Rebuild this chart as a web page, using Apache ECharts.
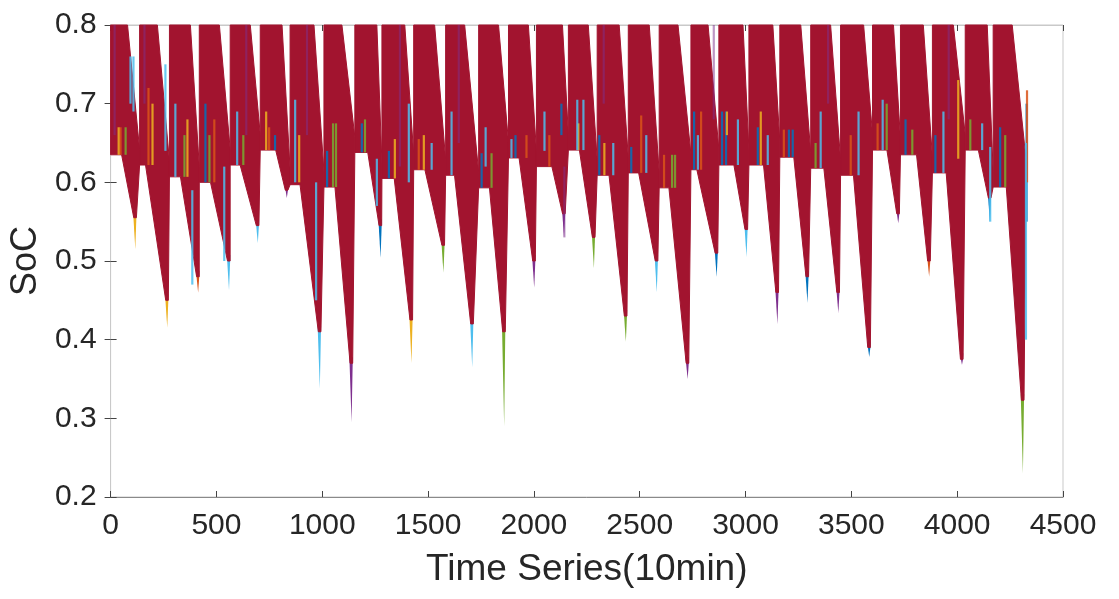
<!DOCTYPE html>
<html>
<head>
<meta charset="utf-8">
<script src="https://cdn.jsdelivr.net/npm/echarts/dist/echarts.min.js"></script>
<style>
html,body{margin:0;padding:0;background:#fff;}
#chart{width:1119px;height:599px;}
</style>
</head>
<body>
<div id="chart"></div>
<script>
// ---- Data (x in 10-min time steps, y in SoC) ----
const xTicks = [0, 500, 1000, 1500, 2000, 2500, 3000, 3500, 4000, 4500];
const yTicks = [0.2, 0.3, 0.4, 0.5, 0.6, 0.7, 0.8];
const socMax = 0.8;

// one entry per daily charge/discharge tooth
const blockStart = [0,137,278,419,565,707,848,1008,1154,1282,1432,1583,1739,1880,2012,2163,2299,2446,2592,2742,2874,3016,3162,3308,3449,3600,3732,3883,4038,4170];
const blockEnd   = [80,221,377,514,660,810,961,1093,1258,1390,1531,1673,1833,1974,2135,2257,2403,2545,2681,2823,2988,3129,3261,3402,3558,3699,3840,3982,4142,4260];
const plateauSoC = [0.635,0.622,0.607,0.600,0.622,0.641,0.597,0.594,0.638,0.605,0.616,0.609,0.593,0.631,0.620,0.641,0.609,0.612,0.593,0.616,0.622,0.622,0.632,0.618,0.609,0.641,0.635,0.612,0.641,0.594];
const spikeStart = [52,165,330,472,612,780,895,1060,1215,1340,1485,1625,1790,1930,2085,2215,2355,2495,2638,2770,2945,3085,3228,3370,3510,3668,3808,3948,4100,4232];
const dipStep    = [118,269,415,561,697,834,990,1140,1277,1423,1574,1710,1861,2003,2144,2285,2436,2582,2728,2865,3006,3152,3294,3440,3586,3723,3869,4024,4156,4312];
const dipSoC     = [0.555,0.45,0.48,0.50,0.545,0.59,0.41,0.37,0.545,0.425,0.52,0.42,0.41,0.50,0.56,0.53,0.43,0.50,0.37,0.51,0.54,0.46,0.48,0.46,0.39,0.56,0.50,0.375,0.58,0.323];
const wedgeSoC   = [0.642,0.627,0.62,0.642,0.661,0.617,0.614,0.658,0.625,0.636,0.629,0.613,0.651,0.64,0.661,0.629,0.632,0.613,0.636,0.642,0.642,0.652,0.638,0.629,0.661,0.655,0.632,0.661,0.614,0.63];
const tipSoC     = [0.515,0.415,0.46,0.463,0.523,0.58,0.338,0.295,0.504,0.37,0.485,0.365,0.29,0.466,0.53,0.491,0.397,0.46,0.35,0.48,0.505,0.42,0.447,0.434,0.378,0.548,0.48,0.368,0.55,0.23];
const tipSeries  = [2,2,1,5,5,3,5,3,0,2,4,5,4,3,3,4,4,5,3,0,5,3,0,3,0,3,1,3,0,4];
const endStep = 4325;
const endPlateauSoC = 0.60;

// visible traces of the other EV series: [step, topSoC, bottomSoC]
const traceBlue = [[448,0.70,0.60],[777,0.66,0.641],[1023,0.64,0.594],[1187,0.675,0.638],[1315,0.64,0.605],[1753,0.637,0.593],[1913,0.66,0.631],[2130,0.70,0.66],[2309,0.66,0.609],[2460,0.645,0.612],[2757,0.69,0.616],[2889,0.69,0.622],[2908,0.69,0.622],[3058,0.67,0.622],[3205,0.667,0.632],[3223,0.667,0.632],[3756,0.68,0.635],[3897,0.66,0.612],[4203,0.67,0.594],[4328,0.70,0.55]];
const traceOrange = [[47,0.67,0.635],[179,0.72,0.622],[490,0.68,0.60],[749,0.67,0.641],[1456,0.655,0.616],[1965,0.66,0.631],[2073,0.66,0.62],[2507,0.685,0.612],[2615,0.635,0.593],[2790,0.69,0.616],[3181,0.667,0.632],[3497,0.66,0.609],[3624,0.675,0.641],[4330,0.717,0.60]];
const traceYellow = [[38,0.67,0.635],[198,0.70,0.622],[363,0.68,0.607],[735,0.69,0.641],[891,0.66,0.60],[1343,0.655,0.605],[1480,0.66,0.616],[2210,0.675,0.641],[2333,0.65,0.609],[2912,0.69,0.66],[3072,0.69,0.622],[4005,0.73,0.63]];
const tracePurple = [[19,0.80,0.66],[160,0.80,0.70],[641,0.80,0.66],[928,0.80,0.66],[1367,0.80,0.62],[1645,0.80,0.65],[2144,0.62,0.53],[2330,0.80,0.70],[2850,0.80,0.68],[3390,0.80,0.70],[3960,0.80,0.68]];
const traceGreen = [[71,0.67,0.635],[349,0.66,0.607],[467,0.66,0.60],[627,0.66,0.622],[1051,0.675,0.594],[1065,0.675,0.594],[1202,0.68,0.638],[1800,0.637,0.593],[2653,0.635,0.593],[2667,0.635,0.593],[3331,0.65,0.618],[3667,0.70,0.641],[3788,0.667,0.635],[4062,0.68,0.641],[4227,0.66,0.594]];
const traceLightBlue = [[94,0.76,0.70],[108,0.76,0.69],[259,0.75,0.64],[306,0.70,0.607],[386,0.59,0.47],[537,0.62,0.50],[598,0.69,0.622],[872,0.705,0.60],[971,0.60,0.45],[1258,0.63,0.57],[1409,0.70,0.60],[1517,0.65,0.616],[1611,0.69,0.609],[1772,0.67,0.62],[1894,0.655,0.631],[2050,0.69,0.64],[2205,0.705,0.641],[2234,0.705,0.641],[2375,0.65,0.609],[2531,0.66,0.612],[2775,0.66,0.616],[2964,0.68,0.622],[3105,0.66,0.622],[3355,0.69,0.618],[3534,0.69,0.609],[3648,0.705,0.641],[3935,0.69,0.612],[4118,0.675,0.641],[4156,0.645,0.55],[4325,0.65,0.40]];

// ---- styles ----
const palette = ['#0072BD','#D95319','#EDB120','#7E2F8E','#77AC30','#4DBEEE','#A2142F'];
const FONT = 'Liberation Sans, Arial, Helvetica, sans-serif';

// build tooth records
const teeth = blockStart.map((a, i) => {
  const last = i === blockStart.length - 1;
  const nA = last ? endStep : blockStart[i + 1];
  const nP = last ? endPlateauSoC : plateauSoC[i + 1];
  return [a, blockEnd[i], wedgeSoC[i], nA, nP, dipStep[i], dipSoC[i], spikeStart[i], plateauSoC[i]];
});
const tips = dipStep.map((d, i) => [d, dipSoC[i], tipSoC[i], tipSeries[i]]);

function toothItem(params, api) {
  const a = api.value(0), b = api.value(1), w = api.value(2), nA = api.value(3), nP = api.value(4);
  const dx = api.value(5), dy = api.value(6), s = api.value(7), p = api.value(8);
  const c = v => api.coord(v);
  const dip = c([dx, dy]);
  const pts = [c([a, socMax]), c([b, socMax]), c([nA, w]), c([nA, nP]),
               [dip[0] + 0.8, dip[1]], [dip[0] - 1.8, dip[1]], c([s, p]), c([a, p])];
  return {type:'polygon', shape:{points:pts}, style:{fill:palette[6], stroke:palette[6], lineWidth:1}};
}
function tipItem(params, api) {
  const x = api.value(0), r = api.value(1), t = api.value(2), ci = api.value(3);
  const top = api.coord([x, r]);
  const bot = api.coord([x, t]);
  return {type:'polygon', shape:{points:[[top[0]-2.5, top[1]-6],[top[0]+1, top[1]-6],[top[0]+0.8, top[1]],[bot[0]-0.3, bot[1]]]},
          style:{fill:palette[ci]}};
}
function traceSeries(data, ci, op) {
  return {
    type:'custom', data:data, z:5, silent:true,
    encode:{x:0, y:[1,2]},
    renderItem:function(params, api){
      const p1 = api.coord([api.value(0), api.value(1)]);
      const p2 = api.coord([api.value(0), api.value(2)]);
      return {type:'line', shape:{x1:p1[0], y1:p1[1], x2:p2[0], y2:p2[1]},
              style:{stroke:palette[ci], lineWidth:2.2, opacity:op}};
    }
  };
}

const axisCommon = {
  type:'value', splitLine:{show:false},
  axisLine:{show:true, lineStyle:{color:'#8a8a8a', width:1}},
  axisTick:{show:true, inside:true, length:6, lineStyle:{color:'#444', width:1}}
};

const chart = echarts.init(document.getElementById('chart'), null, {renderer:'canvas'});
chart.setOption({
  animation:false,
  backgroundColor:'#ffffff',
  grid:{left:108, right:56, top:25, bottom:102, show:true, borderColor:'#c9c9c9', borderWidth:1, containLabel:false},
  xAxis:[
    Object.assign({}, axisCommon, {
      min:xTicks[0], max:xTicks[xTicks.length-1], interval:xTicks[1]-xTicks[0], position:'bottom',
      axisLabel:{fontSize:30, color:'#262626', margin:14, fontFamily:FONT, formatter:v => String(v)},
      name:'Time Series(10min)', nameLocation:'middle', nameGap:54,
      nameTextStyle:{fontSize:37, color:'#262626', fontFamily:FONT}
    }),
    Object.assign({}, axisCommon, {
      min:xTicks[0], max:xTicks[xTicks.length-1], interval:xTicks[1]-xTicks[0], position:'top',
      axisLine:{show:true, lineStyle:{color:'#c9c9c9'}}, axisLabel:{show:false}
    })
  ],
  yAxis:[
    Object.assign({}, axisCommon, {
      min:yTicks[0], max:yTicks[yTicks.length-1], interval:0.1, position:'left',
      axisLabel:{fontSize:30, color:'#262626', margin:14, fontFamily:FONT, formatter:v => v.toFixed(1)},
      name:'SoC', nameLocation:'middle', nameGap:58,
      nameTextStyle:{fontSize:36, color:'#262626', fontFamily:FONT}
    }),
    Object.assign({}, axisCommon, {
      min:yTicks[0], max:yTicks[yTicks.length-1], interval:0.1, position:'right',
      axisLine:{show:true, lineStyle:{color:'#c9c9c9'}}, axisLabel:{show:false}
    })
  ],
  series:[
    {type:'custom', data:tips, z:2, silent:true, encode:{x:0, y:[1,2]}, renderItem:tipItem},
    {type:'custom', data:teeth, z:3, silent:true, encode:{x:[0,1,3,5,7], y:[2,4,6,8]}, renderItem:toothItem},
    traceSeries(traceBlue, 0, 0.85),
    traceSeries(traceOrange, 1, 0.85),
    traceSeries(traceYellow, 2, 0.85),
    traceSeries(tracePurple, 3, 0.5),
    traceSeries(traceGreen, 4, 0.85),
    traceSeries(traceLightBlue, 5, 0.85)
  ]
});
</script>
</body>
</html>
